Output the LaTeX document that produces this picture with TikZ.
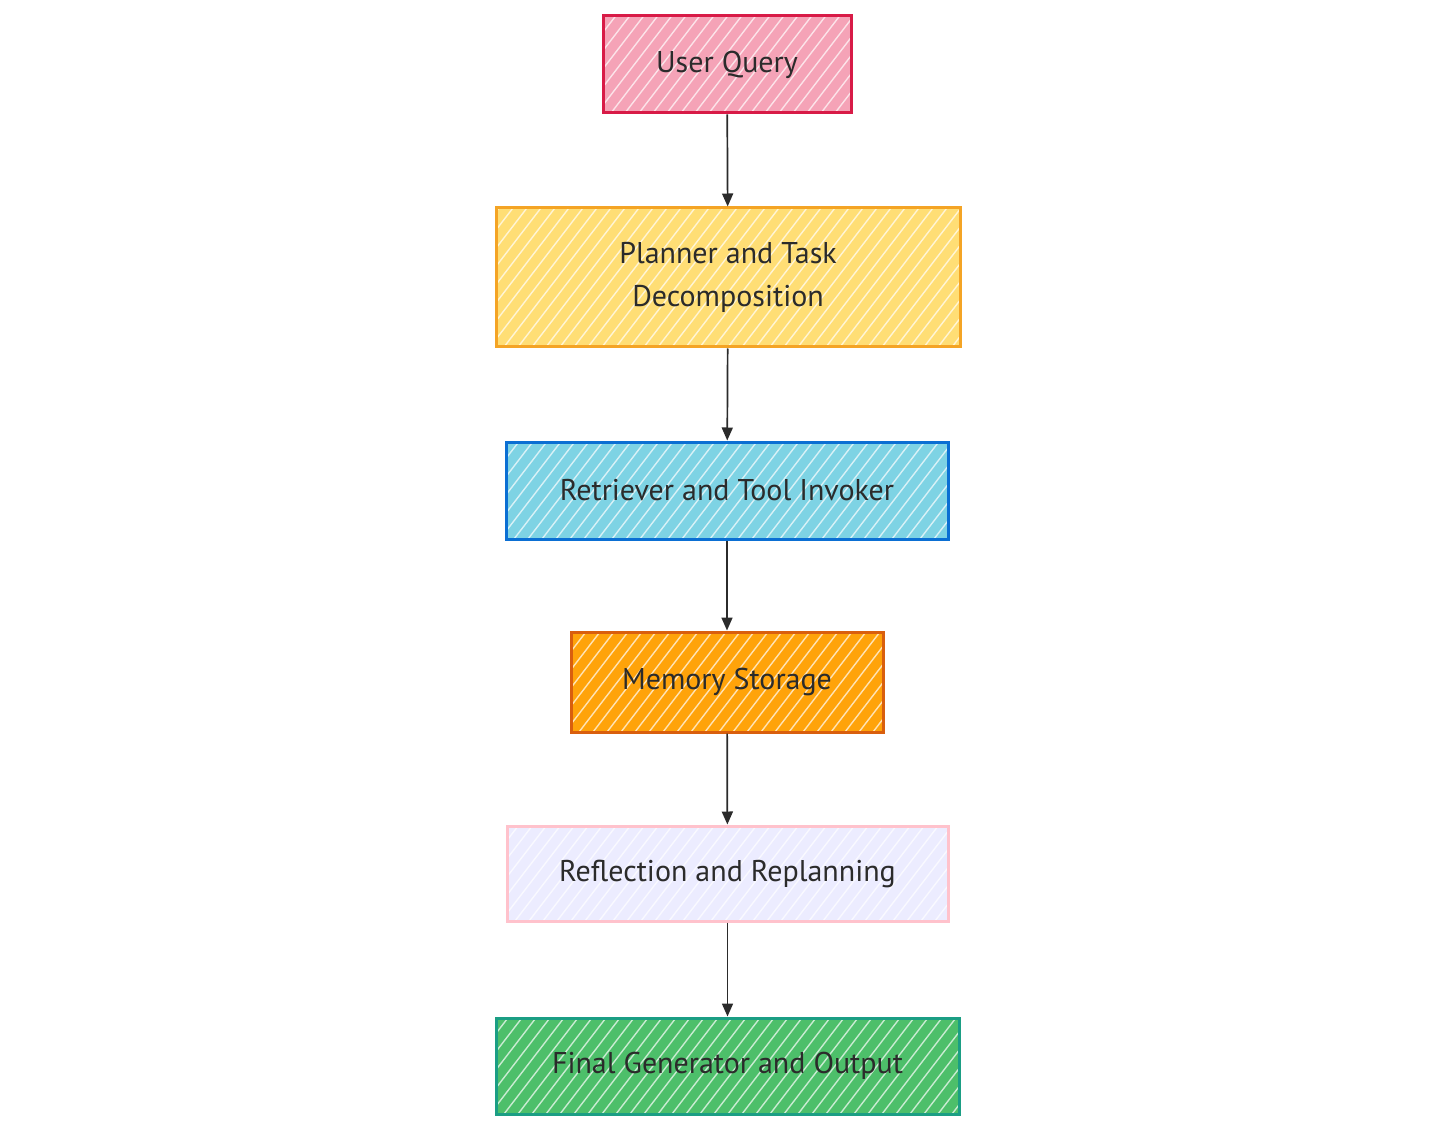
\documentclass[tikz,border=0pt]{standalone}
\usepackage{fontspec}
\setmainfont{PT Sans}
\usetikzlibrary{arrows.meta}
\definecolor{txt}{HTML}{2B2B2B}
\definecolor{qfill}{HTML}{F5A3B7}\definecolor{qdraw}{HTML}{D81B47}
\definecolor{pfill}{HTML}{FFDE75}\definecolor{pdraw}{HTML}{F4A425}
\definecolor{rfill}{HTML}{7ED3E4}\definecolor{rdraw}{HTML}{0B6FD3}
\definecolor{mfill}{HTML}{FFA30A}\definecolor{mdraw}{HTML}{D95F0E}
\definecolor{ffill}{HTML}{ECECFF}\definecolor{fdraw}{HTML}{FFC2CC}
\definecolor{gfill}{HTML}{4DBF6A}\definecolor{gdraw}{HTML}{1B9E84}
\tikzset{
  hatch/.style={white,line width=1.4pt,opacity=0.7},
  mybox/.style n args={2}{draw=#2,fill=#1,line width=3pt,text=txt,align=center,
    font=\fontsize{30}{43}\selectfont,inner sep=0pt,
    path picture={\foreach \i in {-160,-146,...,480}{\draw[hatch] ([xshift=\i pt]path picture bounding box.south west) -- ++(120pt,156pt);}}},
  arr/.style={draw=txt,line width=1.7pt,-{Triangle[length=13pt,width=11pt]}}
}
\begin{document}
\begin{tikzpicture}[x=1pt,y=-1pt]
\useasboundingbox (0,0) rectangle (1456,1131);
\node[mybox={qfill}{qdraw},minimum width=248pt,minimum height=97pt] (q) at (727,64.5) {User Query};
\node[mybox={pfill}{pdraw},minimum width=464pt,minimum height=139pt] (p) at (728,277.5) {Planner and Task\\Decomposition};
\node[mybox={rfill}{rdraw},minimum width=442pt,minimum height=97pt] (r) at (727,490.5) {Retriever and Tool Invoker};
\node[mybox={mfill}{mdraw},minimum width=312pt,minimum height=100pt] (m) at (727,682) {Memory Storage};
\node[mybox={ffill}{fdraw},minimum width=441pt,minimum height=95pt] (f) at (727.5,873.5) {Reflection and Replanning};
\node[mybox={gfill}{gdraw},minimum width=463pt,minimum height=96pt] (g) at (727.5,1066) {Final Generator and Output};
\draw[arr] (q) -- (p);
\draw[arr] (p) -- (r);
\draw[arr] (r) -- (m);
\draw[arr] (m) -- (f);
\draw[arr] (f) -- (g);
\end{tikzpicture}
\end{document}
